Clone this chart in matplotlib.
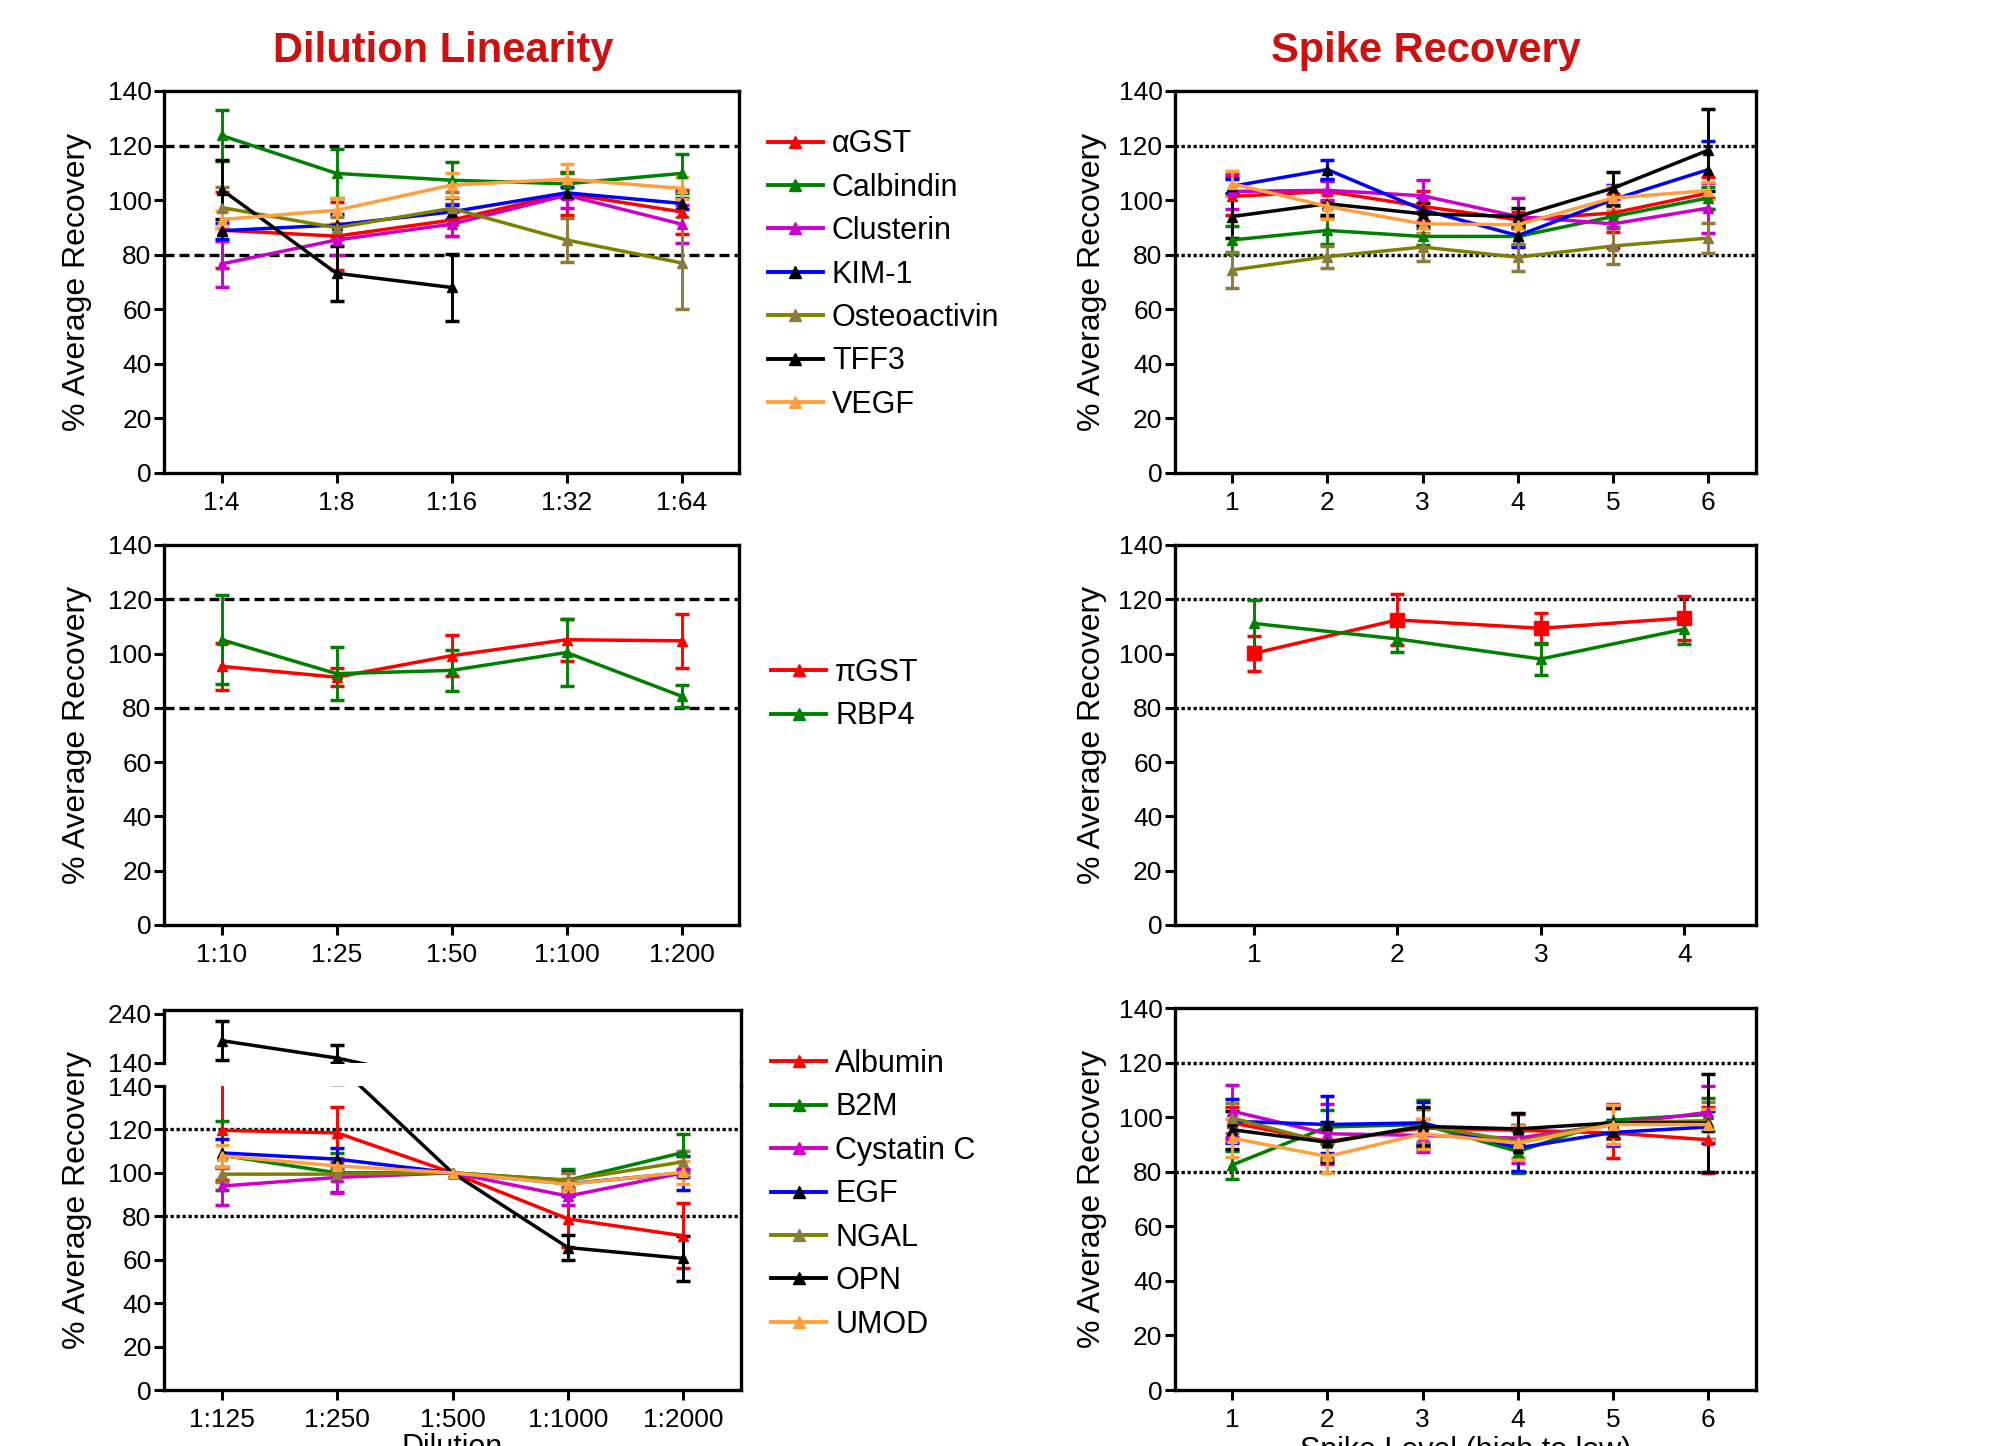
import numpy as np
import matplotlib.pyplot as plt
from matplotlib.lines import Line2D

plt.rcParams['font.family'] = ['Liberation Sans', 'DejaVu Sans']

# ---------------- data ----------------
# panel 1: dilution linearity (1:4 .. 1:64) and spike recovery (levels 1..6)
dil_a_labels = ['1:4', '1:8', '1:16', '1:32', '1:64']
names_a = ['\u03b1GST', 'Calbindin', 'Clusterin', 'KIM-1', 'Osteoactivin', 'TFF3', 'VEGF']

agst_dil = [89.0, 86.8, 92.7, 102.4, 95.7]
agst_dil_err = [14, 12.5, 6, 8, 8]
calb_dil = [123.7, 109.8, 107.3, 106.0, 109.8]
calb_dil_err = [9.5, 9, 6.5, 4, 7]
clus_dil = [76.6, 85.4, 91.2, 101.8, 91.2]
clus_dil_err = [8.3, 5.5, 4.3, 4.5, 7]
kim1_dil = [88.8, 90.9, 95.7, 102.7, 98.8]
kim1_dil_err = [3, 4, 2.5, 2, 2]
osteo_dil = [97.3, 89.9, 97.0, 85.4, 77.0]
osteo_dil_err = [7.5, 4, 6, 8, 17]
tff3_dil = [103.9, 73.2, 68.0]
tff3_dil_err = [10.7, 10, 12.3]
vegf_dil = [92.9, 96.3, 105.5, 107.7, 104.3]
vegf_dil_err = [3, 4.5, 4.5, 5.7, 4]

spike_a_levels = [1, 2, 3, 4, 5, 6]
agst_sp = [101.4, 103.2, 97.7, 92.8, 95.3, 102.6]
agst_sp_err = [7, 4, 5.5, 3, 7, 6]
calb_sp = [85.4, 88.9, 86.7, 86.7, 94.0, 100.8]
calb_sp_err = [5, 5, 3, 3, 4, 4]
clus_sp = [103.2, 103.6, 101.6, 94.0, 91.3, 97.1]
clus_sp_err = [6.5, 3.5, 5.7, 6.8, 9, 9]
kim1_sp = [105.1, 111.2, 96.5, 87.0, 100.2, 111.2]
kim1_sp_err = [2.5, 3.5, 4.5, 4, 5.5, 10.5]
osteo_sp = [74.4, 79.3, 82.8, 79.1, 83.2, 86.1]
osteo_sp_err = [6.5, 4, 5, 5, 6.5, 5.5]
tff3_sp = [94.0, 98.7, 95.0, 94.0, 104.4, 118.3]
tff3_sp_err = [8, 4, 4, 3, 6, 15]
vegf_sp = [106.0, 97.7, 91.3, 91.0, 100.8, 103.5]
vegf_sp_err = [4.6, 4.5, 3.7, 3, 4.5, 3]

# panel 2
dil_b_labels = ['1:10', '1:25', '1:50', '1:100', '1:200']
names_b = ['\u03c0GST', 'RBP4']
pgst_dil = [95.3, 91.3, 99.2, 105.1, 104.7]
pgst_dil_err = [8.7, 3.3, 7.5, 7.8, 10]
rbp4_dil = [105.1, 92.6, 93.8, 100.4, 84.3]
rbp4_dil_err = [16.4, 9.7, 7.6, 12.5, 4]

spike_b_levels = [1, 2, 3, 4]
pgst_sp = [100.1, 112.4, 109.3, 113.1]
pgst_sp_err = [6.5, 9.4, 5.8, 8.2]
rbp4_sp = [111.1, 105.4, 98.0, 109.0]
rbp4_sp_err = [8.6, 5, 6, 5.3]

# panel 3
dil_c_labels = ['1:125', '1:250', '1:500', '1:1000', '1:2000']
names_c = ['Albumin', 'B2M', 'Cystatin C', 'EGF', 'NGAL', 'OPN', 'UMOD']
nan = np.nan
alb_dil = [119.6, 118.4, 100, 78.8, 71.0]
alb_dil_err = [23, 11.7, nan, 13, 15]
b2m_dil = [108.1, 100, 100, 96.6, 109.4]
b2m_dil_err = [16, 9, nan, 5, 8.4]
cysc_dil = [93.9, 97.9, 100, 89.3, 100]
cysc_dil_err = [8.5, 7, nan, 4, 2]
egf_dil = [109.2, 106.3, 100, 95.0, 100]
egf_dil_err = [6.5, 5, nan, 5.5, 7.7]
ngal_dil = [99.4, 99.4, 100, 96.6, 105.1]
ngal_dil_err = [3.5, 3, nan, 3.5, 5]
opn_dil = [185.6, 150, 100, 65.6, 60.6]
opn_dil_err_lo = [40, 9, nan, 5.8, 10.4]
opn_dil_err_hi = [40, 27, nan, 5.8, 10.4]
umod_dil = [107.8, 103.2, 100, 94.8, 100.2]
umod_dil_err = [5.2, 3, nan, 3, 5.3]

spike_c_levels = [1, 2, 3, 4, 5, 6]
alb_sp = [97.9, 91.1, 96.0, 95.2, 94.2, 91.7]
alb_sp_err = [6, 6, 7, 6, 9.2, 12]
b2m_sp = [82.5, 96.4, 97.3, 87.4, 98.9, 101.0]
b2m_sp_err = [5, 6.4, 9, 7.7, 5, 6]
cysc_sp = [102.2, 93.9, 93.3, 92.3, 97.3, 101.8]
cysc_sp_err = [9.6, 11, 6, 9, 7.7, 9.7]
egf_sp = [98.5, 97.3, 97.9, 88.7, 94.4, 96.4]
egf_sp_err = [8, 10.3, 7.6, 8.6, 4.5, 6]
ngal_sp = [99.7, 90.5, 96.9, 91.1, 97.9, 98.7]
ngal_sp_err = [5.5, 6, 6, 6, 6, 7]
opn_sp = [95.4, 90.8, 96.6, 95.7, 97.9, 97.9]
opn_sp_err = [7, 7.3, 7.3, 6, 5.5, 18]
umod_sp = [92.3, 85.6, 93.9, 90.5, 97.3, 97.3]
umod_sp_err = [7, 6.2, 5.4, 6.2, 7, 5.7]

# ---------------- styles ----------------
LINE_COLORS = ['#FF0000', '#008000', '#CC00CC', '#0000FF', '#808000', '#000000', '#FFA040']
MARKER_COLORS = ['#FF0000', '#008000', '#CC00CC', '#000000', '#8C7B3E', '#000000', '#FFA040']
ERR_COLORS = ['#FF0000', '#008000', '#CC00CC', '#0000FF', '#8C7B3E', '#000000', '#FFA040']
TITLE_RED = '#CC1111'
W, H = 2014, 1446

fig = plt.figure(figsize=(W / 100, H / 100), dpi=100)


def add_ax(l, t, r, b):
    return fig.add_axes([l / W, 1 - b / H, (r - l) / W, (b - t) / H])


def style_axes(ax, ylim=(0, 140), yticks=range(0, 141, 20)):
    for s in ax.spines.values():
        s.set_linewidth(2.4)
    ax.set_ylim(*ylim)
    ax.set_yticks(list(yticks))
    ax.tick_params(axis='both', direction='out', length=7, width=2.2, labelsize=19)
    ax.tick_params(axis='y', pad=2)
    ax.tick_params(axis='x', pad=6)


def ref_lines(ax, dotted):
    ls = (0, (1, 0.8)) if dotted else (0, (3, 1.5))
    for v in (80, 120):
        ax.axhline(v, color='k', lw=2.4, ls=ls, zorder=1)


def draw(ax, x, y, err, i, marker='^', ms=7.5):
    ax.errorbar(x[:len(y)], y, yerr=err, color=LINE_COLORS[i], lw=2.5,
                marker=marker, ms=ms, mfc=MARKER_COLORS[i], mec=MARKER_COLORS[i],
                ecolor=ERR_COLORS[i], elinewidth=2.1, capsize=4.7, capthick=2.5, zorder=3)


def add_legend(ax, names, anchor, idxs=None):
    idxs = idxs if idxs is not None else range(len(names))
    handles = [Line2D([], [], color=LINE_COLORS[i], lw=2.8, marker='^', ms=8,
                      mfc=MARKER_COLORS[i], mec=MARKER_COLORS[i]) for i in idxs]
    ax.legend(handles, names, loc='upper left', bbox_to_anchor=anchor, frameon=False,
              fontsize=22, handlelength=1.8, handletextpad=0.3, labelspacing=0.44,
              borderaxespad=0, borderpad=0)


def ylab(ax, frac_x, y=0.5):
    ax.set_ylabel('% Average Recovery', fontsize=23)
    ax.yaxis.set_label_coords(frac_x, y)


# ---------------- row 1 ----------------
ax1 = add_ax(164, 91, 739, 473)
style_axes(ax1)
ref_lines(ax1, dotted=False)
x5 = np.arange(1, 6)
dil_a = [(agst_dil, agst_dil_err), (calb_dil, calb_dil_err), (clus_dil, clus_dil_err),
         (kim1_dil, kim1_dil_err), (osteo_dil, osteo_dil_err), (tff3_dil, tff3_dil_err),
         (vegf_dil, vegf_dil_err)]
for i, (y, e) in enumerate(dil_a):
    draw(ax1, x5, y, e, i)
ax1.set_xlim(0.5, 5.5)
ax1.set_xticks(x5)
ax1.set_xticklabels(dil_a_labels)
ylab(ax1, -0.125)
add_legend(ax1, names_a, (1.05, 0.90))

ax2 = add_ax(1175, 91, 1756, 473)
style_axes(ax2)
ref_lines(ax2, dotted=True)
sp_a = [(agst_sp, agst_sp_err), (calb_sp, calb_sp_err), (clus_sp, clus_sp_err),
        (kim1_sp, kim1_sp_err), (osteo_sp, osteo_sp_err), (tff3_sp, tff3_sp_err),
        (vegf_sp, vegf_sp_err)]
for i, (y, e) in enumerate(sp_a):
    draw(ax2, np.array(spike_a_levels), y, e, i)
ax2.set_xlim(0.4, 6.5)
ax2.set_xticks(spike_a_levels)
ylab(ax2, -0.117)

fig.text(443 / W, 1 - 51 / H, 'Dilution Linearity', fontsize=30, fontweight='bold',
         color=TITLE_RED, ha='center', va='center')
fig.text(1426 / W, 1 - 51 / H, 'Spike Recovery', fontsize=30, fontweight='bold',
         color=TITLE_RED, ha='center', va='center')

# ---------------- row 2 ----------------
ax3 = add_ax(164, 545, 739, 925)
style_axes(ax3)
ref_lines(ax3, dotted=False)
draw(ax3, x5, pgst_dil, pgst_dil_err, 0)
draw(ax3, x5, rbp4_dil, rbp4_dil_err, 1)
ax3.set_xlim(0.5, 5.5)
ax3.set_xticks(x5)
ax3.set_xticklabels(dil_b_labels)
ylab(ax3, -0.125)
add_legend(ax3, names_b, (1.056, 0.703))

ax4 = add_ax(1175, 545, 1756, 925)
style_axes(ax4)
ref_lines(ax4, dotted=True)
x4 = np.array(spike_b_levels)
draw(ax4, x4, pgst_sp, pgst_sp_err, 0, marker='s', ms=10)
draw(ax4, x4, rbp4_sp, rbp4_sp_err, 1)
ax4.set_xlim(0.45, 4.5)
ax4.set_xticks(spike_b_levels)
ylab(ax4, -0.117)

# ---------------- row 3 (broken axis on the left) ----------------
ax5u = add_ax(164, 1010, 741, 1063)
ax5 = add_ax(164, 1086, 741, 1390)
style_axes(ax5u, ylim=(140, 248), yticks=[140, 240])
style_axes(ax5)
ax5u.spines['bottom'].set_visible(False)
ax5.spines['top'].set_visible(False)
ax5u.set_xticks([])
ref_lines(ax5, dotted=True)
dil_c = [(alb_dil, alb_dil_err), (b2m_dil, b2m_dil_err), (cysc_dil, cysc_dil_err),
         (egf_dil, egf_dil_err), (ngal_dil, ngal_dil_err),
         (opn_dil, [opn_dil_err_lo, opn_dil_err_hi]), (umod_dil, umod_dil_err)]
for i, (y, e) in enumerate(dil_c):
    draw(ax5, x5, y, e, i)
# off-scale OPN values go in the upper segment
draw(ax5u, x5, opn_dil, [opn_dil_err_lo, opn_dil_err_hi], 5)
for a in (ax5, ax5u):
    a.set_xlim(0.5, 5.5)
ax5.set_xticks(x5)
ax5.set_xticklabels(dil_c_labels)
ax5.set_xlabel('Dilution', fontsize=22, labelpad=1)
ylab(ax5, -0.125, y=0.625)
add_legend(ax5, names_c, (1.052, 1.122))
# right spine runs through the break
xr = ax5.get_position().x1
fig.add_artist(Line2D([xr, xr], [ax5.get_position().y1, ax5u.get_position().y0],
                      transform=fig.transFigure, color='k', lw=2.4, solid_capstyle='projecting'))

ax6 = add_ax(1175, 1008, 1756, 1390)
style_axes(ax6)
ref_lines(ax6, dotted=True)
sp_c = [(alb_sp, alb_sp_err), (b2m_sp, b2m_sp_err), (cysc_sp, cysc_sp_err),
        (egf_sp, egf_sp_err), (ngal_sp, ngal_sp_err), (opn_sp, opn_sp_err),
        (umod_sp, umod_sp_err)]
for i, (y, e) in enumerate(sp_c):
    draw(ax6, np.array(spike_c_levels), y, e, i)
ax6.set_xlim(0.4, 6.5)
ax6.set_xticks(spike_c_levels)
ax6.set_xlabel('Spike Level (high to low)', fontsize=22, labelpad=3)
ylab(ax6, -0.117)

fig.savefig('out.png', dpi=100)
